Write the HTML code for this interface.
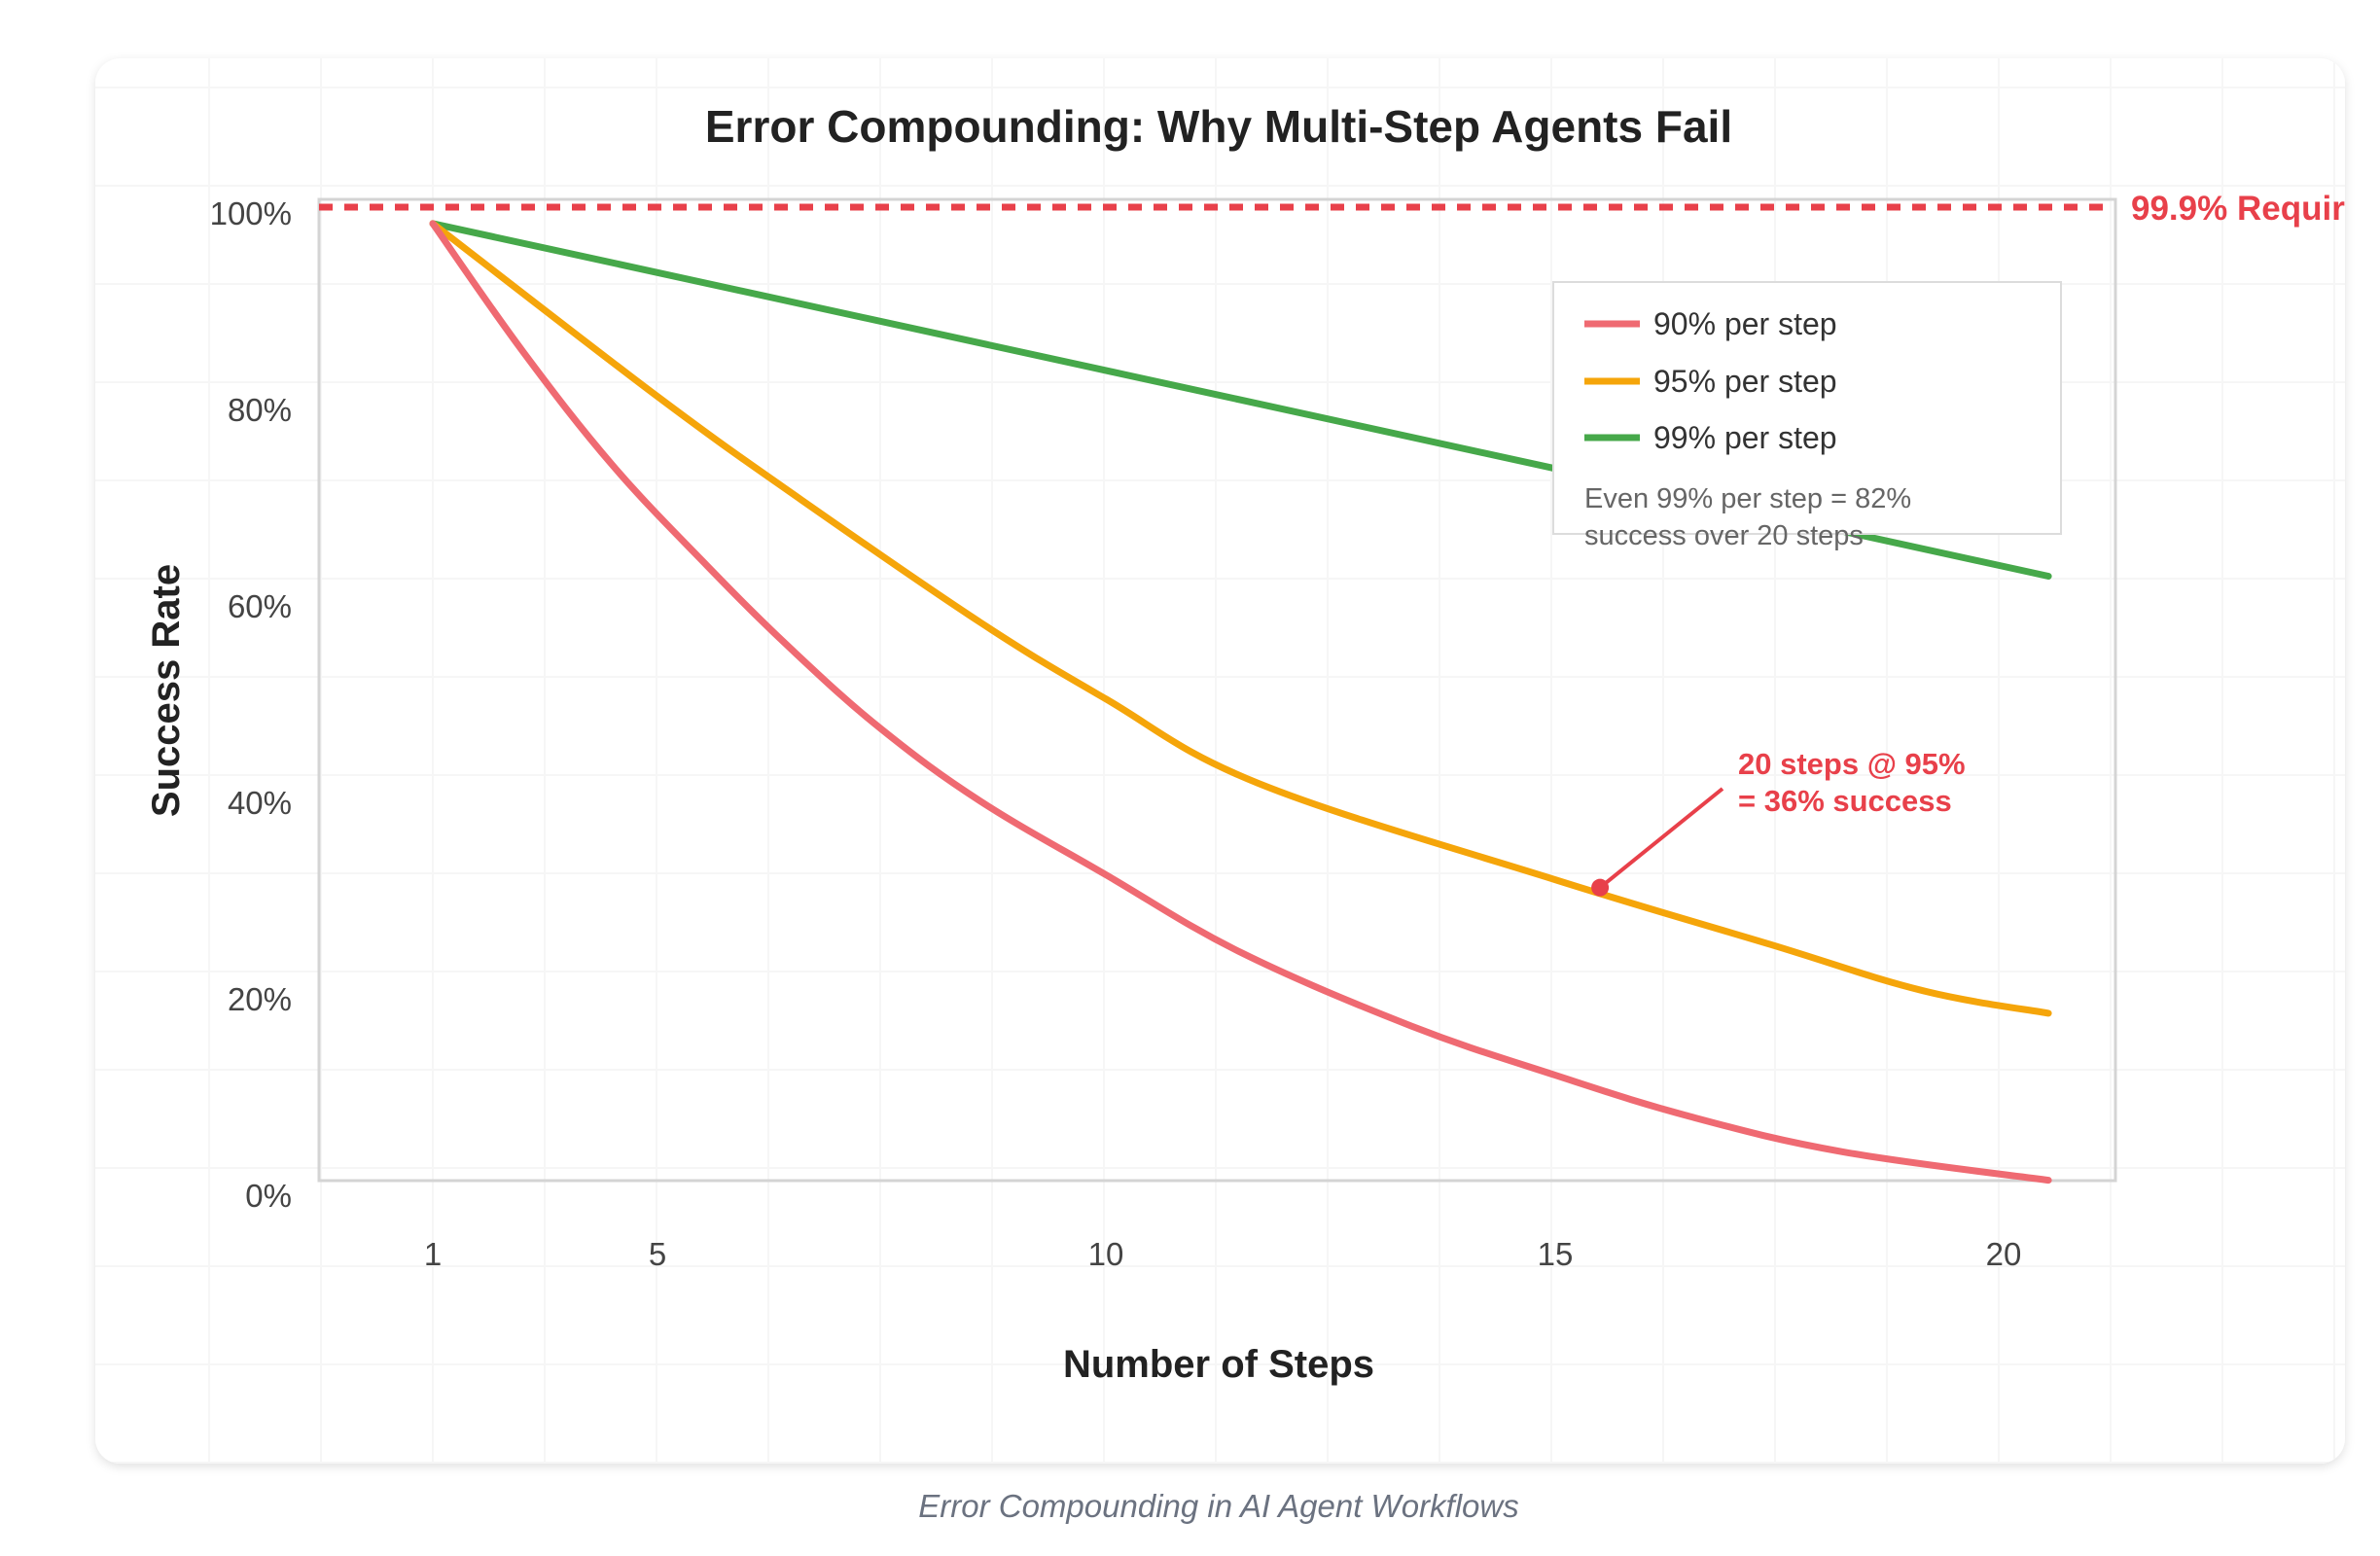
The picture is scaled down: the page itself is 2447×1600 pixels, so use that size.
<!DOCTYPE html>
<html><head><meta charset="utf-8"><style>
html,body{margin:0;padding:0;background:#fff;}
body{width:2447px;height:1600px;overflow:hidden;position:relative;font-family:"Liberation Sans",sans-serif;}
svg{position:absolute;left:0;top:0;}
</style></head><body>
<svg id="chart" width="2447" height="1600" viewBox="0 0 2447 1600">
<defs>
<filter id="sh" x="-5%" y="-5%" width="110%" height="110%"><feDropShadow dx="0" dy="3" stdDeviation="5" flood-color="#000" flood-opacity="0.12"/></filter>
<clipPath id="cardclip"><rect x="98" y="60" width="2313" height="1445" rx="26"/></clipPath>
</defs>
<rect x="98" y="60" width="2313" height="1445" rx="26" fill="#fff" filter="url(#sh)"/>
<g id="bggrid" clip-path="url(#cardclip)"></g>
<text x="1253" y="146" text-anchor="middle" font-size="46" font-weight="bold" fill="#222">Error Compounding: Why Multi-Step Agents Fail</text>
<rect x="328" y="205" width="1847" height="1009" fill="none" stroke="#d4d4d4" stroke-width="3"/>
<g id="yticks"></g>
<g id="xticks"></g>
<g id="series"></g>
<g clip-path="url(#cardclip)">
<line x1="328" y1="213" x2="2168" y2="213" stroke="#e8404a" stroke-width="7" stroke-dasharray="14 12"/>
<text x="2191" y="226" font-size="35" font-weight="bold" fill="#e8404a">99.9% Required</text>
</g>
<text transform="translate(184,710) rotate(-90)" text-anchor="middle" font-size="40" font-weight="bold" fill="#222">Success Rate</text>
<text x="1253" y="1416" text-anchor="middle" font-size="40" font-weight="bold" fill="#222">Number of Steps</text>
<g>
<rect x="1597" y="290" width="522" height="259" fill="#fff" stroke="#dcdcdc" stroke-width="2"/>
<line x1="1629" y1="333" x2="1686" y2="333" stroke="#ef6a72" stroke-width="7"/>
<text x="1700" y="344" font-size="32" fill="#333">90% per step</text>
<line x1="1629" y1="392" x2="1686" y2="392" stroke="#f5a50a" stroke-width="7"/>
<text x="1700" y="403" font-size="32" fill="#333">95% per step</text>
<line x1="1629" y1="450" x2="1686" y2="450" stroke="#46a84a" stroke-width="7"/>
<text x="1700" y="461" font-size="32" fill="#333">99% per step</text>
<text font-size="29" fill="#666"><tspan x="1629" y="522">Even 99% per step = 82%</tspan><tspan x="1629" y="560">success over 20 steps</tspan></text>
</g>
<g id="annot"></g>
<text x="1253" y="1560" text-anchor="middle" font-size="33" font-style="italic" fill="#6b7280">Error Compounding in AI Agent Workflows</text>
</svg>
<script>
const xTickVals = [1, 5, 10, 15, 20];
const xTickLabels = ["1", "5", "10", "15", "20"];
const yTickVals = [0, 20, 40, 60, 80, 100];
const yTickLabels = ["0%", "20%", "40%", "60%", "80%", "100%"];
const redSteps = [1, 2.6, 4.2, 5.55, 6.5, 7.5, 8.6, 10, 11.5, 13.4, 15, 16.5, 18.2, 20.5];
const redValues = [99, 86, 74.4, 64.2, 55.6, 47.5, 40.2, 32.7, 24.8, 17.3, 12.3, 8.1, 4.5, 1.6];
const orangeSteps = [1, 5, 6.6, 8.6, 10, 11.7, 15, 17.4, 19.1, 20.5];
const orangeValues = [99, 81.4, 70.9, 58.4, 50.6, 42, 32.2, 25.6, 20.9, 18.6];
const greenSteps = [1, 20.5];
const greenValues = [99, 63.1];
const annotStep = 15.5;
const annotValue = 31.4;

const NS = "http://www.w3.org/2000/svg";
const xTickPx = [445, 676, 1137, 1599, 2060];
function xScale(s) {
  for (let i = 0; i < xTickVals.length - 1; i++) {
    if (s <= xTickVals[i + 1] || i === xTickVals.length - 2) {
      const t = (s - xTickVals[i]) / (xTickVals[i + 1] - xTickVals[i]);
      return xTickPx[i] + t * (xTickPx[i + 1] - xTickPx[i]);
    }
  }
}
function yScale(v) { return 1229.8 - 10.1 * v; }
function mk(tag, attrs, parent) {
  const e = document.createElementNS(NS, tag);
  for (const k in attrs) e.setAttribute(k, attrs[k]);
  parent.appendChild(e);
  return e;
}
const bg = document.getElementById('bggrid');
for (let x = 215; x < 2411; x += 115) {
  const l = mk('line', {x1: x, y1: 60, x2: x, y2: 1505, stroke: '#f6f6f6', 'stroke-width': 2}, bg);
  
  
}
for (let y = 90; y < 1505; y += 101) {
  const l = mk('line', {x1: 98, y1: y, x2: 2411, y2: y, stroke: '#f6f6f6', 'stroke-width': 2}, bg);
  
  
}
const yt = document.getElementById('yticks');
yTickVals.forEach((v, i) => {
  const t = mk('text', {x: 300, y: yScale(v) + 11, 'text-anchor': 'end', 'font-size': 33, fill: '#444'}, yt);
  
  
  t.textContent = yTickLabels[i];
});
const xt = document.getElementById('xticks');
xTickVals.forEach((v, i) => {
  const t = mk('text', {x: xScale(v), y: 1301, 'text-anchor': 'middle', 'font-size': 33, fill: '#444'}, xt);
  
  
  t.textContent = xTickLabels[i];
});
const sg = document.getElementById('series');
function drawLine(xs, ys, color, name) {
  const P = xs.map((s, i) => [xScale(s), yScale(ys[i])]);
  let d = 'M' + P[0][0].toFixed(1) + ' ' + P[0][1].toFixed(1);
  const k = 0.18;
  for (let i = 0; i < P.length - 1; i++) {
    const p0 = P[Math.max(0, i - 1)], p1 = P[i], p2 = P[i + 1], p3 = P[Math.min(P.length - 1, i + 2)];
    const c1x = p1[0] + (p2[0] - p0[0]) * k, c1y = p1[1] + (p2[1] - p0[1]) * k;
    const c2x = p2[0] - (p3[0] - p1[0]) * k, c2y = p2[1] - (p3[1] - p1[1]) * k;
    d += ' C' + c1x.toFixed(1) + ' ' + c1y.toFixed(1) + ' ' + c2x.toFixed(1) + ' ' + c2y.toFixed(1) + ' ' + p2[0].toFixed(1) + ' ' + p2[1].toFixed(1);
  }
  const p = mk('path', {d: d, fill: 'none', stroke: color, 'stroke-width': 7, 'stroke-linejoin': 'round', 'stroke-linecap': 'round'}, sg);
  
  
}
drawLine(greenSteps, greenValues, '#46a84a', 'line-99-per-step');
drawLine(orangeSteps, orangeValues, '#f5a50a', 'line-95-per-step');
drawLine(redSteps, redValues, '#ef6a72', 'line-90-per-step');
const an = document.getElementById('annot');
const ax = xScale(annotStep), ay = yScale(annotValue);
const al = mk('line', {x1: 1771, y1: 811, x2: ax, y2: ay, stroke: '#e8404a', 'stroke-width': 4}, an);


const dot = mk('circle', {cx: ax, cy: ay, r: 9, fill: '#e8404a'}, an);


const at = mk('text', {'font-size': 31, 'font-weight': 'bold', fill: '#e8404a'}, an);


const t1 = mk('tspan', {x: 1787, y: 796}, at); t1.textContent = '20 steps @ 95%';
const t2 = mk('tspan', {x: 1787, y: 834}, at); t2.textContent = '= 36% success';
</script>
</body></html>
